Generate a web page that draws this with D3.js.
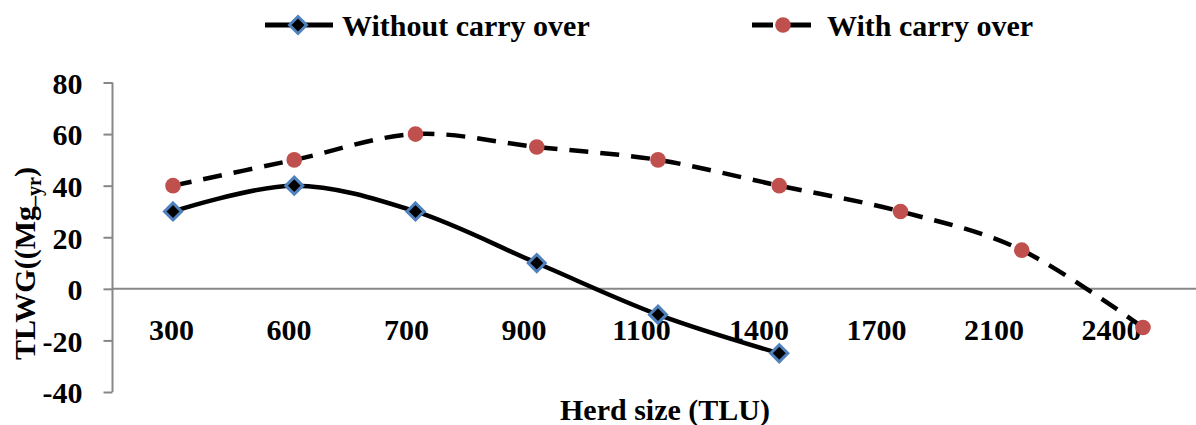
<!DOCTYPE html>
<html>
<head>
<meta charset="utf-8">
<script src="https://cdn.jsdelivr.net/npm/d3@7"></script>
<style>
  html, body { margin: 0; padding: 0; background: #fff; }
  svg text { font-family: "Liberation Serif", "Times New Roman", serif; font-weight: bold; fill: #000; }
</style>
</head>
<body>
<svg id="chart" width="1196" height="425"></svg>
<script>
const categories = ["300", "600", "700", "900", "1100", "1400", "1700", "2100", "2400"];
const withoutCarry = [30, 40, 30, 10, -10, -25];
const withCarry = [40, 50, 60, 55, 50, 40, 30, 15, -15];
const yTicks = [80, 60, 40, 20, 0, -20, -40];
const seriesNames = ["Without carry over", "With carry over"];

const svg = d3.select("#chart");
const axisColor = "#878787";

const x = d3.scalePoint().domain(categories).range([173, 1143]);
const xLab = d3.scalePoint().domain(categories).range([171, 1111]);
const y = d3.scaleLinear().domain([-40, 80]).range([392, 82.5]);

// Y axis
const yAxis = svg.append("g").attr("transform", "translate(112.5,0)")
  .call(d3.axisLeft(y).tickValues(yTicks).tickSize(9).tickFormat(d => String(d)));
yAxis.select(".domain").attr("stroke", axisColor).attr("stroke-width", 2).attr("d", `M0,${y(-40)}V${y(80)}`);
yAxis.selectAll(".tick line").attr("stroke", axisColor).attr("stroke-width", 2);
yAxis.selectAll(".tick text").attr("x", -30).attr("dy", "0.36em")
  .style("font-size", "30px").style("font-family", "Liberation Serif").style("font-weight", "bold").attr("fill", "#000");

// X axis at zero
const xAxis = svg.append("g").attr("transform", `translate(0,${y(0)})`)
  .call(d3.axisBottom(xLab).tickSize(0).tickPadding(0));
xAxis.select(".domain").attr("stroke", axisColor).attr("stroke-width", 2).attr("d", "M112.5,0H1196");
xAxis.selectAll(".tick text").attr("y", 51).attr("dy", 0)
  .style("font-size", "30px").style("font-family", "Liberation Serif").style("font-weight", "bold").attr("fill", "#000");

// Lines
const curve = d3.curveCardinal.tension(0);
const line = d3.line().x(d => x(d.c)).y(d => y(d.v)).curve(curve);
const d1 = withoutCarry.map((v, i) => ({ c: categories[i], v }));
const d2 = withCarry.map((v, i) => ({ c: categories[i], v }));

svg.append("path").attr("d", line(d2)).attr("fill", "none").attr("stroke", "#000")
  .attr("stroke-width", 4.5).attr("stroke-dasharray", "19,12");
svg.append("path").attr("d", line(d1)).attr("fill", "none").attr("stroke", "#000")
  .attr("stroke-width", 4.5);

const diamond = (cx, cy, r) => `M${cx},${cy - r}L${cx + r},${cy}L${cx},${cy + r}L${cx - r},${cy}Z`;

svg.append("g").selectAll("circle").data(d2).join("circle")
  .attr("cx", d => x(d.c)).attr("cy", d => y(d.v)).attr("r", 7.8).attr("fill", "#c0504d");
svg.append("g").selectAll("path").data(d1).join("path")
  .attr("d", d => diamond(x(d.c), y(d.v), 8.5))
  .attr("fill", "#000").attr("stroke", "#4f81bd").attr("stroke-width", 3);

// Legend
const lg = svg.append("g");
lg.append("line").attr("x1", 265).attr("x2", 333).attr("y1", 25).attr("y2", 25).attr("stroke", "#000").attr("stroke-width", 5);
lg.append("path").attr("d", diamond(298, 25, 8.5)).attr("fill", "#000").attr("stroke", "#4f81bd").attr("stroke-width", 3);
lg.append("text").attr("x", 342).attr("y", 36).style("font-size", "30px").text(seriesNames[0]);

lg.append("line").attr("x1", 752).attr("x2", 811).attr("y1", 25).attr("y2", 25).attr("stroke", "#000").attr("stroke-width", 5).attr("stroke-dasharray", "21,40");
lg.append("line").attr("x1", 790).attr("x2", 811).attr("y1", 25).attr("y2", 25).attr("stroke", "#000").attr("stroke-width", 5);
lg.append("circle").attr("cx", 783).attr("cy", 25).attr("r", 7.8).attr("fill", "#c0504d");
lg.append("text").attr("x", 827).attr("y", 36).style("font-size", "30px").text(seriesNames[1]);

// Axis titles
svg.append("text").attr("x", 665).attr("y", 420).attr("text-anchor", "middle").style("font-size", "30px").text("Herd size (TLU)");

const yt = svg.append("text").attr("transform", "translate(35,263.5) rotate(-90)").attr("text-anchor", "middle").style("font-size", "30px");
yt.append("tspan").text("TLWG((Mg");
yt.append("tspan").attr("dy", 6).style("font-size", "20px").text("–yr");
yt.append("tspan").attr("dy", -6).text(")");
</script>
</body>
</html>
